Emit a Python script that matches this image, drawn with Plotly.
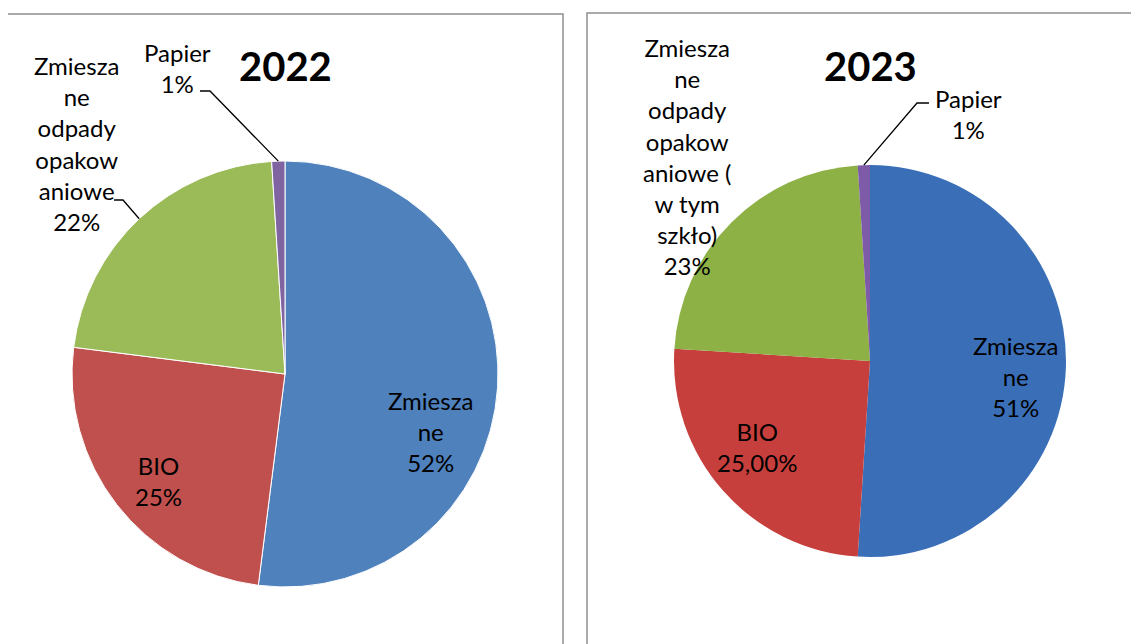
import math
import plotly.graph_objects as go

# ---- data ----
categories = ["Zmieszane", "BIO", "Zmieszane odpady opakowaniowe", "Papier"]
values_2022 = [52, 25, 22, 1]
values_2023 = [51, 25, 23, 1]
pct_text_2022 = ["52%", "25%", "22%", "1%"]
pct_text_2023 = ["51%", "25,00%", "23%", "1%"]
name_text_2022 = ["Zmiesza<br>ne", "BIO", "Zmiesza<br>ne<br>odpady<br>opakow<br>aniowe", "Papier"]
name_text_2023 = ["Zmiesza<br>ne", "BIO", "Zmiesza<br>ne<br>odpady<br>opakow<br>aniowe (<br>w tym<br>szkło)", "Papier"]
titles = ["2022", "2023"]

W, H = 1139, 644
OFF = 8  # page body margin offset
FONT = "Lato"

colors_2022 = ["#4F81BD", "#C0504D", "#9BBB59", "#8064A2"]
colors_2023 = ["#3A6FB8", "#C63F3C", "#8DB144", "#7D5BA8"]

# pie geometry in page pixels: (cx, cy, r)
geo = [(285, 374, 213), (870, 361, 196)]


def px(x):
    return (x - OFF) / W


def py(y):
    return 1 - (y - OFF) / H


fig = go.Figure()
for vals, cols, (cx, cy, r), lw in [
    (values_2022, colors_2022, geo[0], 1),
    (values_2023, colors_2023, geo[1], 0),
]:
    fig.add_trace(go.Pie(
        labels=categories, values=vals, sort=False, direction="clockwise",
        rotation=0, textinfo="none", showlegend=False,
        marker=dict(colors=cols, line=dict(color="white", width=lw)),
        domain=dict(x=[px(cx - r), px(cx + r)], y=[py(cy + r), py(cy - r)]),
    ))


def slice_edge_point(vals, idx, g):
    cx, cy, r = g
    tot = sum(vals)
    start = sum(vals[:idx])
    mid = (start + vals[idx] / 2) / tot * 2 * math.pi
    return cx + r * math.sin(mid), cy - r * math.cos(mid)


annotations = []
shapes = []

# panel borders
shapes.append(dict(type="rect", xref="paper", yref="paper", x0=px(7), x1=px(563),
                   y0=-0.05, y1=py(14), line=dict(color="#8E8E8E", width=1.5)))
shapes.append(dict(type="rect", xref="paper", yref="paper", x0=px(587), x1=1.05,
                   y0=-0.05, y1=py(13), line=dict(color="#8E8E8E", width=1.5)))

# titles
for t, x in zip(titles, [285, 870]):
    annotations.append(dict(text="<b>%s</b>" % t, x=px(x), y=py(66), xref="paper", yref="paper",
                            showarrow=False, font=dict(family=FONT, size=40, color="black"),
                            xanchor="center", yanchor="middle"))

# label positions (page pixel centers)
label_pos_2022 = [(430, 431), (158, 481), (76, 144), (177, 68)]
label_pos_2023 = [(1015, 376), (757, 447), (687, 157), (968, 114)]

for names, pcts, pos in [(name_text_2022, pct_text_2022, label_pos_2022),
                         (name_text_2023, pct_text_2023, label_pos_2023)]:
    for n, p, (x, y) in zip(names, pcts, pos):
        annotations.append(dict(text="%s<br>%s" % (n, p), x=px(x), y=py(y), xref="paper", yref="paper",
                                showarrow=False, font=dict(family=FONT, size=24, color="black"),
                                xanchor="center", yanchor="middle"))

# leader lines: (label-side start, elbow) -> slice edge
leaders = [
    (values_2022, 3, geo[0], (200, 91), (210, 91)),
    (values_2022, 2, geo[0], (114, 200), (123, 200)),
    (values_2023, 3, geo[1], (929, 103), (917, 103)),
]
for vals, idx, g, p0, p1 in leaders:
    ex, ey = slice_edge_point(vals, idx, g)
    path = "M %f %f L %f %f L %f %f" % (px(p0[0]), py(p0[1]), px(p1[0]), py(p1[1]), px(ex), py(ey))
    shapes.append(dict(type="path", xref="paper", yref="paper", path=path,
                       line=dict(color="black", width=1.3)))

fig.update_layout(
    width=W, height=H, margin=dict(l=0, r=0, t=0, b=0),
    paper_bgcolor="white", plot_bgcolor="white",
    annotations=annotations, shapes=shapes,
    font=dict(family=FONT),
)

fig.write_html("out.html")
